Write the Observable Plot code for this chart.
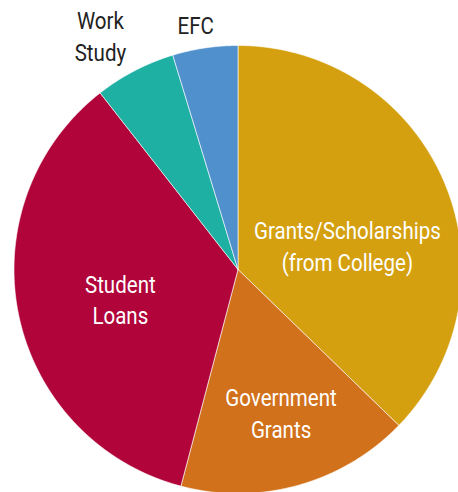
<!DOCTYPE html>
<html>
<head>
<meta charset="utf-8">
<script src="https://cdn.jsdelivr.net/npm/d3@7"></script>
<script src="https://cdn.jsdelivr.net/npm/@observablehq/plot@0.6"></script>
<style>
  html, body { margin: 0; padding: 0; background: #fff; overflow: hidden; }
  #chart { width: 458px; height: 492px; }
</style>
</head>
<body>
<div id="chart"></div>
<script>
// ---- data ----
const categories = ["Grants/Scholarships\n(from College)", "Government\nGrants", "Student\nLoans", "Work\nStudy", "EFC"];
const shares = [37.25, 16.85, 35.35, 5.85, 4.7];
const colors = ["#D4A00F", "#D2711B", "#B0043A", "#1FB0A4", "#5091CD"];

// ---- layout (label placement relative to slice mid-angle) ----
const labelLayout = [
  {r: 0.55, dx: -4, dy: 23, fill: "white"},
  {r: 0.55, dx: 10, dy: 24, fill: "white"},
  {r: 0.55, dx: 3, dy: 4, fill: "white"},
  {r: 1.1, dx: -24, dy: -16, fill: "#222"},
  {r: 1.1, dx: -6, dy: -2, fill: "#222"}
];

const W = 458, H = 492, R = 224, CX = 237.5, CY = 269;
const total = d3.sum(shares);
let acc = 0;
const slices = shares.map((v, i) => {
  const a0 = acc / total * 2 * Math.PI;
  acc += v;
  const a1 = acc / total * 2 * Math.PI;
  return {label: categories[i], color: colors[i], a0, a1, i};
});

const pts = [];
for (const s of slices) {
  pts.push({k: s.i, x: 0, y: 0, color: s.color});
  const n = Math.max(2, Math.ceil((s.a1 - s.a0) / (Math.PI / 720)));
  for (let j = 0; j <= n; j++) {
    const a = s.a0 + (s.a1 - s.a0) * j / n;
    pts.push({k: s.i, x: Math.sin(a), y: Math.cos(a), color: s.color});
  }
  pts.push({k: s.i, x: 0, y: 0, color: s.color});
}

const labels = slices.map(s => {
  const m = (s.a0 + s.a1) / 2, L = labelLayout[s.i];
  return {text: s.label, x: L.r * Math.sin(m), y: L.r * Math.cos(m), dx: L.dx, dy: L.dy, fill: L.fill};
});

const chart = Plot.plot({
  width: W, height: H,
  margin: 0,
  x: {domain: [-CX / R, (W - CX) / R], axis: null},
  y: {domain: [-(H - CY) / R, CY / R], axis: null},
  style: {fontFamily: "Roboto, sans-serif", background: "white", overflow: "hidden"},
  marks: [
    Plot.line(pts, {x: "x", y: "y", z: "k", fill: "color", stroke: "white", strokeWidth: 0.6, curve: "linear"}),
    ...labels.map(l => Plot.text([l], {x: "x", y: "y", text: "text", dx: l.dx, dy: l.dy, fill: l.fill, fontSize: 24.5, lineHeight: 1.3, textAnchor: "middle", lineAnchor: "middle", className: "lbl"}))
  ]
});
document.getElementById("chart").appendChild(chart);

// condense the label font horizontally (reference uses a condensed face)
const targetWidth = 187; // width of "Grants/Scholarships" in the reference
let measured = null;
chart.querySelectorAll("text tspan").forEach(t => {
  if (t.textContent === "Grants/Scholarships") measured = t.getComputedTextLength();
});
const k = measured ? targetWidth / measured : 0.85;
chart.querySelectorAll("g.lbl text, .lbl text").forEach(t => {
  const tr = t.getAttribute("transform") || "";
  t.setAttribute("transform", tr + ` scale(${k},1)`);
});
</script>
</body>
</html>
